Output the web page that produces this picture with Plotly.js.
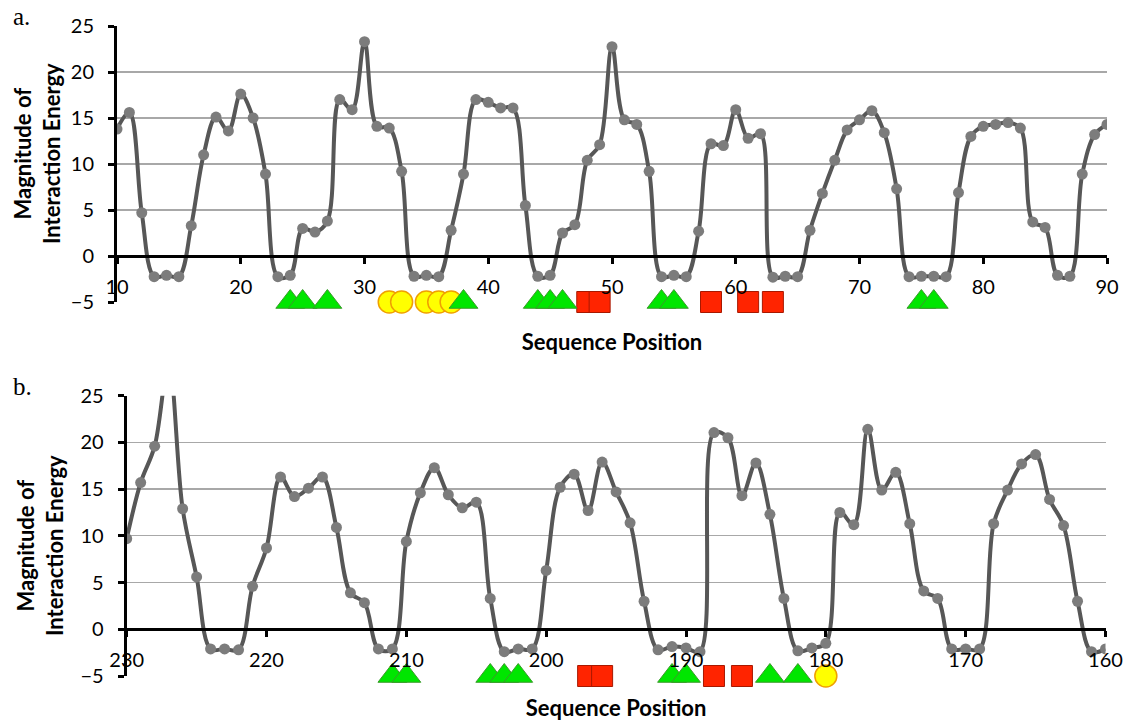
<!DOCTYPE html>
<html>
<head>
<meta charset="utf-8">
<script src="https://cdn.plot.ly/plotly-3.0.1.min.js"></script>
<style>html,body{margin:0;padding:0;background:#fff;}#chart{width:1125px;height:721px;}</style>
</head>
<body>
<div id="chart"></div>
<script>
// ---- Panel a: positions 10..90 ----
const posA = [10,11,12,13,14,15,16,17,18,19,20,21,22,23,24,25,26,27,28,29,30,31,32,33,34,35,36,37,38,39,40,41,42,43,44,45,46,47,48,49,50,51,52,53,54,55,56,57,58,59,60,61,62,63,64,65,66,67,68,69,70,71,72,73,74,75,76,77,78,79,80,81,82,83,84,85,86,87,88,89,90];
const energyA = [13.8,15.6,4.7,-2.25,-2.1,-2.25,3.3,11.0,15.1,13.6,17.6,15.0,8.9,-2.25,-2.1,3.0,2.6,3.8,17.0,15.9,
  23.3,14.1,13.9,9.2,-2.2,-2.1,-2.25,2.8,8.9,17.0,16.7,16.1,16.1,5.5,-2.2,-2.1,2.5,3.4,10.4,12.1,
  22.75,14.8,14.3,9.2,-2.25,-2.1,-2.25,2.7,12.2,12.0,15.9,12.8,13.3,-2.3,-2.2,-2.25,2.8,6.8,10.4,13.7,
  14.8,15.8,13.4,7.3,-2.25,-2.2,-2.2,-2.25,6.9,13.0,14.1,14.3,14.5,13.9,3.7,3.1,-2.1,-2.2,8.9,13.2,14.3];
const triA = [24,25,27,38,44,45,46,54,55,75,76];
const circA = [32,33,35,36,37];
const sqA = [48,49,58,61,63];
const ticksA = [10,20,30,40,50,60,70,80,90];

// ---- Panel b: positions 230..160 ----
const posB = [230,229,228,227,226,225,224,223,222,221,220,219,218,217,216,215,214,213,212,211,210,209,208,207,206,205,204,203,202,201,200,199,198,197,196,195,194,193,192,191,190,189,188,187,186,185,184,183,182,181,180,179,178,177,176,175,174,173,172,171,170,169,168,167,166,165,164,163,162,161,160];
const energyB = [9.7,15.7,19.6,28.5,12.9,5.6,-2.1,-2.1,-2.2,4.6,8.7,16.3,14.2,15.1,16.3,10.9,3.9,2.85,-2.1,-2.1,
  9.4,14.6,17.3,14.4,13.0,13.6,3.3,-2.4,-2.1,-2.1,6.3,15.2,16.6,12.7,17.9,14.7,11.4,3.0,-2.2,-1.85,
  -2.0,-2.4,21.05,20.5,14.3,17.8,12.3,3.3,-2.3,-2.0,-1.5,12.5,11.2,21.4,14.9,16.8,11.3,4.1,3.3,-2.1,
  -2.1,-2.1,11.3,14.9,17.7,18.7,13.9,11.1,3.0,-2.4,-2.1];
const triB = [211,210,204,203,202,191,190,184,182];
const circB = [180];
const sqB = [197,196,188,186];
const ticksB = [230,220,210,200,190,180,170,160];

const yTicks = [-5,0,5,10,15,20,25];
const markerLevel = -5;

const W = 1125, H = 721;
const FONT = 'Lato, "Open Sans", sans-serif';
const lineStyle = {color:'#575757', width:4, shape:'spline', smoothing:1};
const ptStyle = {color:'#7c7c7c', size:11};

function level(arr){ return arr.map(() => markerLevel); }

function sym(xs, ax, ay, kind){
  const m = {
    tri: {symbol:'triangle-up', size:25, color:'#00e600', line:{color:'#3a9a2a', width:1}},
    circ:{symbol:'circle', size:22, color:'#ffff00', line:{color:'#f0a000', width:1.5}},
    sq:  {symbol:'square', size:21, color:'#ff2400', line:{color:'#a81800', width:1}}
  }[kind];
  return {x: xs, y: level(xs), xaxis: ax, yaxis: ay, mode:'markers', marker: m,
          cliponaxis:false, showlegend:false, hoverinfo:'x'};
}

const data = [
  {x: posA, y: energyA, xaxis:'x', yaxis:'y', mode:'lines+markers', line: lineStyle, marker: ptStyle, showlegend:false},
  sym(circA,'x','y','circ'), sym(sqA,'x','y','sq'), sym(triA,'x','y','tri'),
  {x: posB, y: energyB, xaxis:'x2', yaxis:'y2', mode:'lines+markers', line: lineStyle, marker: ptStyle, showlegend:false},
  sym(circB,'x2','y2','circ'), sym(sqB,'x2','y2','sq'), sym(triB,'x2','y2','tri')
];

function px2x(p){ return p / W; }
function px2y(p){ return (H - p) / H; }

const xBase = {
  showline:true, linecolor:'#000', linewidth:3, mirror:false,
  ticks:'outside', ticklen:6, tickwidth:3, tickcolor:'#000',
  showgrid:false, zeroline:false, anchor:'free',
  tickfont:{family:FONT, size:20, color:'#000'}, ticklabelstandoff:6,
  title:{text:'<b>Sequence Position</b>', font:{family:FONT, size:22, color:'#000'}, standoff:37}
};
const yBase = {
  range:[-5,25], tickvals:yTicks, showline:true, linecolor:'#000', linewidth:3,
  ticks:'outside', ticklen:6, tickwidth:3, tickcolor:'#000',
  showgrid:true, gridcolor:'#a8a8a8', gridwidth:1.3, zeroline:false,
  tickfont:{family:FONT, size:20, color:'#000'}, ticklabelstandoff:10
};

const layout = {
  width:W, height:H, margin:{l:0, r:0, t:0, b:0},
  paper_bgcolor:'#fff', plot_bgcolor:'#fff', showlegend:false,
  xaxis: Object.assign({}, xBase, {domain:[px2x(117), px2x(1107)], range:[10,90], tickvals:ticksA, position: px2y(256)}),
  yaxis: Object.assign({}, yBase, {domain:[px2y(302), px2y(26)], anchor:'x'}),
  xaxis2: Object.assign({}, xBase, {domain:[px2x(126.7), px2x(1105.5)], range:[230,160], tickvals:ticksB, position: px2y(629.3)}),
  yaxis2: Object.assign({}, yBase, {domain:[px2y(676), px2y(395.7)], anchor:'x2'}),
  annotations: [
    {text:'<b>Magnitude of<br>Interaction Energy</b>', xref:'paper', yref:'paper', x:px2x(37), y:px2y(154),
     textangle:-90, showarrow:false, font:{family:FONT, size:22, color:'#000'}, xanchor:'center', yanchor:'middle'},
    {text:'<b>Magnitude of<br>Interaction Energy</b>', xref:'paper', yref:'paper', x:px2x(40), y:px2y(546),
     textangle:-90, showarrow:false, font:{family:FONT, size:22, color:'#000'}, xanchor:'center', yanchor:'middle'},
    {text:'a.', xref:'paper', yref:'paper', x:px2x(11), y:px2y(17), xanchor:'left', yanchor:'middle', showarrow:false,
     font:{family:'"Liberation Serif", serif', size:25, color:'#000'}},
    {text:'b.', xref:'paper', yref:'paper', x:px2x(11), y:px2y(386), xanchor:'left', yanchor:'middle', showarrow:false,
     font:{family:'"Liberation Serif", serif', size:25, color:'#000'}}
  ]
};

Plotly.newPlot('chart', data, layout, {displayModeBar:false, staticPlot:true});
</script>
</body>
</html>
